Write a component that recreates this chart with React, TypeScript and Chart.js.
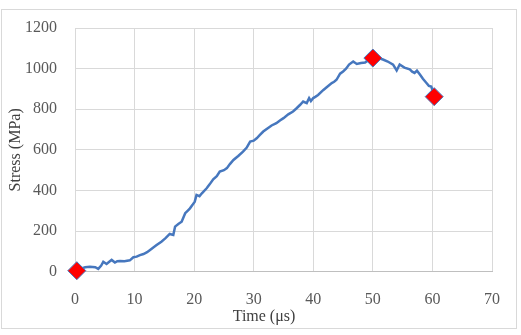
import React, { useEffect, useRef } from "react";
import { Chart, registerables } from "chart.js";

Chart.register(...registerables);

const timeUs = [0.3, 1.0, 1.7, 2.5, 3.4, 3.9, 4.4, 4.75, 5.3, 5.8, 6.15, 6.7, 7.1, 7.55, 8.3, 9.2, 9.8, 10.35, 10.9, 11.5, 12.1, 12.6, 13.2, 13.7, 14.5, 15.2, 15.9, 16.5, 16.8, 17.4, 17.9, 18.5, 18.9, 19.3, 19.7, 20.1, 20.4, 20.9, 21.3, 22.1, 22.6, 23.2, 23.8, 24.3, 25.0, 25.5, 26.0, 26.6, 27.4, 28.2, 28.8, 29.4, 30.0, 30.5, 31.0, 31.6, 32.3, 33.0, 33.8, 34.4, 35.0, 35.8, 36.6, 37.2, 37.8, 38.3, 38.9, 39.3, 39.6, 40.0, 40.4, 40.8, 41.7, 42.4, 43.1, 43.5, 43.9, 44.5, 45.0, 45.5, 46.0, 46.7, 47.3, 48.0, 48.7, 49.4, 50.0, 50.9, 51.7, 52.5, 53.4, 54.0, 54.5, 55.3, 56.2, 56.6, 57.0, 57.4, 57.9, 58.4, 59.0, 59.4, 59.8, 60.3];
const stressMPa = [8, 15, 22, 24, 22, 14, 30, 49, 38, 50, 58, 45, 52, 53, 52, 56, 71, 74, 82, 87, 96, 107, 120, 131, 148, 165, 186, 181, 222, 236, 246, 288, 300, 312, 328, 345, 378, 372, 386, 411, 430, 455, 470, 493, 500, 510, 530, 550, 570, 591, 610, 641, 645, 657, 672, 690, 705, 720, 731, 745, 756, 775, 789, 805, 822, 838, 830, 855, 840, 855, 862, 870, 895, 912, 929, 935, 945, 975, 986, 1000, 1020, 1035, 1023, 1028, 1030, 1045, 1050, 1052, 1045, 1035, 1020, 991, 1020, 1005, 996, 985, 979, 990, 971, 950, 929, 915, 912, 870];

const markerTime = [0.3, 50.0, 60.3];
const markerStress = [5, 1052, 862];

const xTitle = "Time (μs)";
const yTitle = "Stress (MPa)";

const FONT = "'Liberation Serif', 'Times New Roman', serif";
const LINE_COLOR = "#4677BE";
const GRID = "#d9d9d9";

export default function App() {
  const ref = useRef<HTMLCanvasElement | null>(null);

  useEffect(() => {
    const canvas = ref.current;
    if (!canvas) return;

    const frame = {
      id: "frame",
      beforeDraw(chart: any) {
        const ctx = chart.ctx;
        ctx.save();
        ctx.fillStyle = "#ffffff";
        ctx.fillRect(0, 0, chart.width, chart.height);
        ctx.strokeStyle = GRID;
        ctx.lineWidth = 1;
        ctx.strokeRect(1.5, 9.5, 515, 319);
        ctx.restore();
      },
      afterDraw(chart: any) {
        const ctx = chart.ctx;
        ctx.save();
        ctx.fillStyle = "#404040";
        ctx.font = `16px ${FONT}`;
        ctx.textAlign = "center";
        ctx.textBaseline = "middle";
        ctx.fillText(xTitle, 264, 317);
        ctx.translate(16, (chart.chartArea.top + chart.chartArea.bottom) / 2);
        ctx.rotate(-Math.PI / 2);
        ctx.fillText(yTitle, 0, 0);
        ctx.restore();
      },
    };

    const chart = new Chart(canvas, {
      type: "scatter",
      data: {
        datasets: [
          {
            label: "markers",
            data: markerTime.map((t, i) => ({ x: t, y: markerStress[i] })),
            showLine: false,
            pointStyle: "rectRot",
            pointRadius: 9,
            backgroundColor: "#ff0000",
            borderColor: LINE_COLOR,
            borderWidth: 1,
            clip: false,
          },
          {
            label: "stress",
            data: timeUs.map((t, i) => ({ x: t, y: stressMPa[i] })),
            showLine: true,
            borderColor: LINE_COLOR,
            borderWidth: 2.5,
            pointRadius: 0,
            tension: 0,
            clip: false,
          },
        ],
      },
      options: {
        animation: false,
        responsive: false,
        devicePixelRatio: 1,
        layout: { padding: { left: 0, top: 28, right: 29, bottom: 0 } },
        plugins: {
          legend: { display: false },
          tooltip: { enabled: false },
        },
        scales: {
          x: {
            type: "linear",
            min: 0,
            max: 70,
            ticks: {
              stepSize: 10,
              padding: 18,
              color: "#595959",
              font: { family: FONT, size: 16 },
              callback: (v: any) => String(v),
            },
            grid: { color: GRID, drawTicks: false, lineWidth: 1 },
            border: { color: "#bfbfbf" },
            afterFit: (s: any) => {
              s.height = 63.3;
            },
          },
          y: {
            type: "linear",
            min: 0,
            max: 1200,
            ticks: {
              stepSize: 200,
              padding: 18,
              color: "#595959",
              font: { family: FONT, size: 16 },
              callback: (v: any) => String(v),
            },
            grid: { color: GRID, drawTicks: false, lineWidth: 1 },
            border: { color: GRID },
            afterFit: (s: any) => {
              s.width = 75;
            },
          },
        },
      },
      plugins: [frame],
    } as any);

    return () => chart.destroy();
  }, []);

  return (
    <div style={{ position: "absolute", left: 0, top: 0, width: 521, height: 335 }}>
      <canvas ref={ref} width={521} height={335} style={{ display: "block" }} />
    </div>
  );
}
